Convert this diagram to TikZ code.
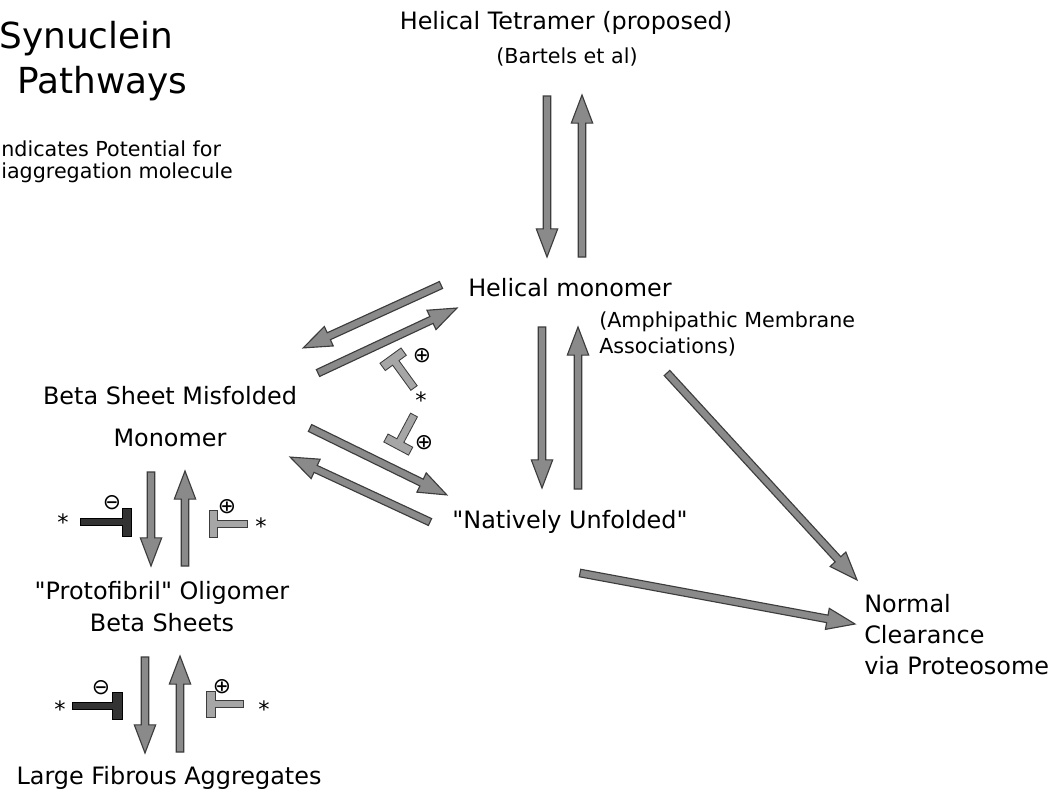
\documentclass[tikz,border=0pt]{standalone}
\usepackage{fontspec}
\setmainfont{DejaVu Sans}[Ligatures=TeXOff]
\usetikzlibrary{calc}
\definecolor{ArrGrey}{HTML}{8A8A8A}
\definecolor{ArrEdge}{HTML}{3C3C3C}
\definecolor{TDark}{HTML}{333333}
\definecolor{TLight}{HTML}{A6A6A6}

\tikzset{
  lbl/.style={inner sep=0pt, font=\fontsize{17}{20}\selectfont},
  sublbl/.style={inner sep=0pt, font=\fontsize{14.7}{17}\selectfont},
  sym/.style={inner sep=0pt, font=\fontsize{15.5}{16}\selectfont},
  star/.style={inner sep=0pt, font=\fontsize{16}{17}\selectfont},
  arrowfill/.style={fill=ArrGrey, draw=ArrEdge, line width=0.8pt, line join=miter},
  tdark/.style={fill=TDark, draw=black, line width=0.6pt},
  tlight/.style={fill=TLight, draw=ArrEdge, line width=0.6pt},
}

% block arrow from #1 to #2
\newcommand{\fatarrow}[2]{%
  \filldraw[arrowfill] let \p1=($(#2)-(#1)$), \n1={veclen(\x1,\y1)}, \n2={atan2(\y1,\x1)} in
    {[shift={(#1)}, rotate=\n2]
      (0pt,-2.7pt) -- (\n1-20pt,-2.7pt) -- (\n1-20pt,-7.6pt) -- (\n1,0pt)
      -- (\n1-20pt,7.6pt) -- (\n1-20pt,2.7pt) -- (0pt,2.7pt) -- cycle};%
}
% T-shaped blocker: position, angle, stem, bar thickness, bar half length, style
\newcommand{\tbar}[6]{%
  \filldraw[#6, shift={(#1)}, rotate=#2]
    (0,-3.9) -- (#3,-3.9) -- (#3,-#5) -- (#3+#4,-#5) -- (#3+#4,#5) -- (#3,#5) -- (#3,3.9) -- (0,3.9) -- cycle;%
}

\begin{document}
\begin{tikzpicture}[x=0.025cm, y=-0.025cm]
  \useasboundingbox (0,0) rectangle (1062,795);
  \fill[white] (0,0) rectangle (1062,795);

  % title and legend (cut at the left edge)
  \node[inner sep=0pt, anchor=west, font=\fontsize{25.5}{30}\selectfont] (title1) at (-1,39) {Synuclein};
  \node[inner sep=0pt, anchor=west, font=\fontsize{25.5}{30}\selectfont] (title2) at (17,84) {Pathways};
  \node[sublbl, anchor=west] (leg1) at (1,149) {ndicates Potential for};
  \node[sublbl, anchor=west] (leg2) at (1,173) {iaggregation molecule};

  % states
  \node[lbl] (tetra) at (566,23) {Helical Tetramer (proposed)};
  \node[sublbl] (bartels) at (567,57) {(Bartels et al)};
  \node[lbl] (helmono) at (570,288) {Helical monomer};
  \node[sublbl, anchor=west, align=left, font=\fontsize{14.7}{18.4}\selectfont] (amph) at (599,334) {(Amphipathic Membrane\\Associations)};
  \node[lbl] (native) at (570,522) {"Natively Unfolded"};
  \node[lbl, align=center, font=\fontsize{17}{29.8}\selectfont] (betamono) at (170,417) {Beta Sheet Misfolded\\Monomer};
  \node[lbl, align=center, font=\fontsize{17}{22.7}\selectfont] (proto) at (162,607) {"Protofibril" Oligomer\\Beta Sheets};
  \node[lbl] (fibrous) at (169,778) {Large Fibrous Aggregates};
  \node[lbl, anchor=west, align=left, font=\fontsize{17}{22}\selectfont] (clear) at (864,635) {Normal\\Clearance\\via Proteosome};

  % arrow end points
  \coordinate (tetD1) at (547,96);   \coordinate (tetD2) at (547,257);
  \coordinate (tetU1) at (582,257);  \coordinate (tetU2) at (582,95);
  \coordinate (midD1) at (542,327);  \coordinate (midD2) at (542,488);
  \coordinate (midU1) at (578,489);  \coordinate (midU2) at (578,327);
  \coordinate (leftD1) at (151,472); \coordinate (leftD2) at (151,566);
  \coordinate (leftU1) at (185,566); \coordinate (leftU2) at (185,471);
  \coordinate (lowD1) at (145,657);  \coordinate (lowD2) at (145,753);
  \coordinate (lowU1) at (180,752);  \coordinate (lowU2) at (180,656);
  \coordinate (hb1) at (441,285);    \coordinate (hb2) at (303,348);
  \coordinate (bh1) at (318,373);    \coordinate (bh2) at (457,308);
  \coordinate (bn1) at (310,428);    \coordinate (bn2) at (447,495);
  \coordinate (nb1) at (430,522);    \coordinate (nb2) at (290,457);
  \coordinate (ac1) at (667,373);    \coordinate (ac2) at (857,580);
  \coordinate (nc1) at (580,573);    \coordinate (nc2) at (855,624);

  % arrows
  \fatarrow{tetD1}{tetD2}
  \fatarrow{tetU1}{tetU2}
  \fatarrow{midD1}{midD2}
  \fatarrow{midU1}{midU2}
  \fatarrow{leftD1}{leftD2}
  \fatarrow{leftU1}{leftU2}
  \fatarrow{lowD1}{lowD2}
  \fatarrow{lowU1}{lowU2}
  \fatarrow{hb1}{hb2}
  \fatarrow{bh1}{bh2}
  \fatarrow{bn1}{bn2}
  \fatarrow{nb1}{nb2}
  \fatarrow{ac1}{ac2}
  \fatarrow{nc1}{nc2}

  % blockers between the monomers
  \tbar{414,388}{126}{31}{9}{13}{tlight}
  \tbar{414,415}{242}{29}{9}{14}{tlight}
  \node[sym] (plusA) at (422,356) {⊕};
  \node[star] (starA) at (421,400) {*};
  \node[sym] (plusB) at (424,443) {⊕};

  % blockers on the aggregation side
  \tbar{80,522}{0}{42}{9}{14}{tdark}
  \tbar{247,524}{180}{30}{8}{13.5}{tlight}
  \node[sym] (minusA) at (112,503) {⊖};
  \node[sym] (plusC) at (227,507) {⊕};
  \node[star] (starB) at (63,522) {*};
  \node[star] (starC) at (261,526) {*};

  \tbar{72,706}{0}{40}{10}{13.5}{tdark}
  \tbar{243,704}{180}{28}{9}{13}{tlight}
  \node[sym] (minusB) at (101,688) {⊖};
  \node[sym] (plusD) at (222,687) {⊕};
  \node[star] (starD) at (60,709) {*};
  \node[star] (starE) at (264,709) {*};
\end{tikzpicture}
\end{document}
